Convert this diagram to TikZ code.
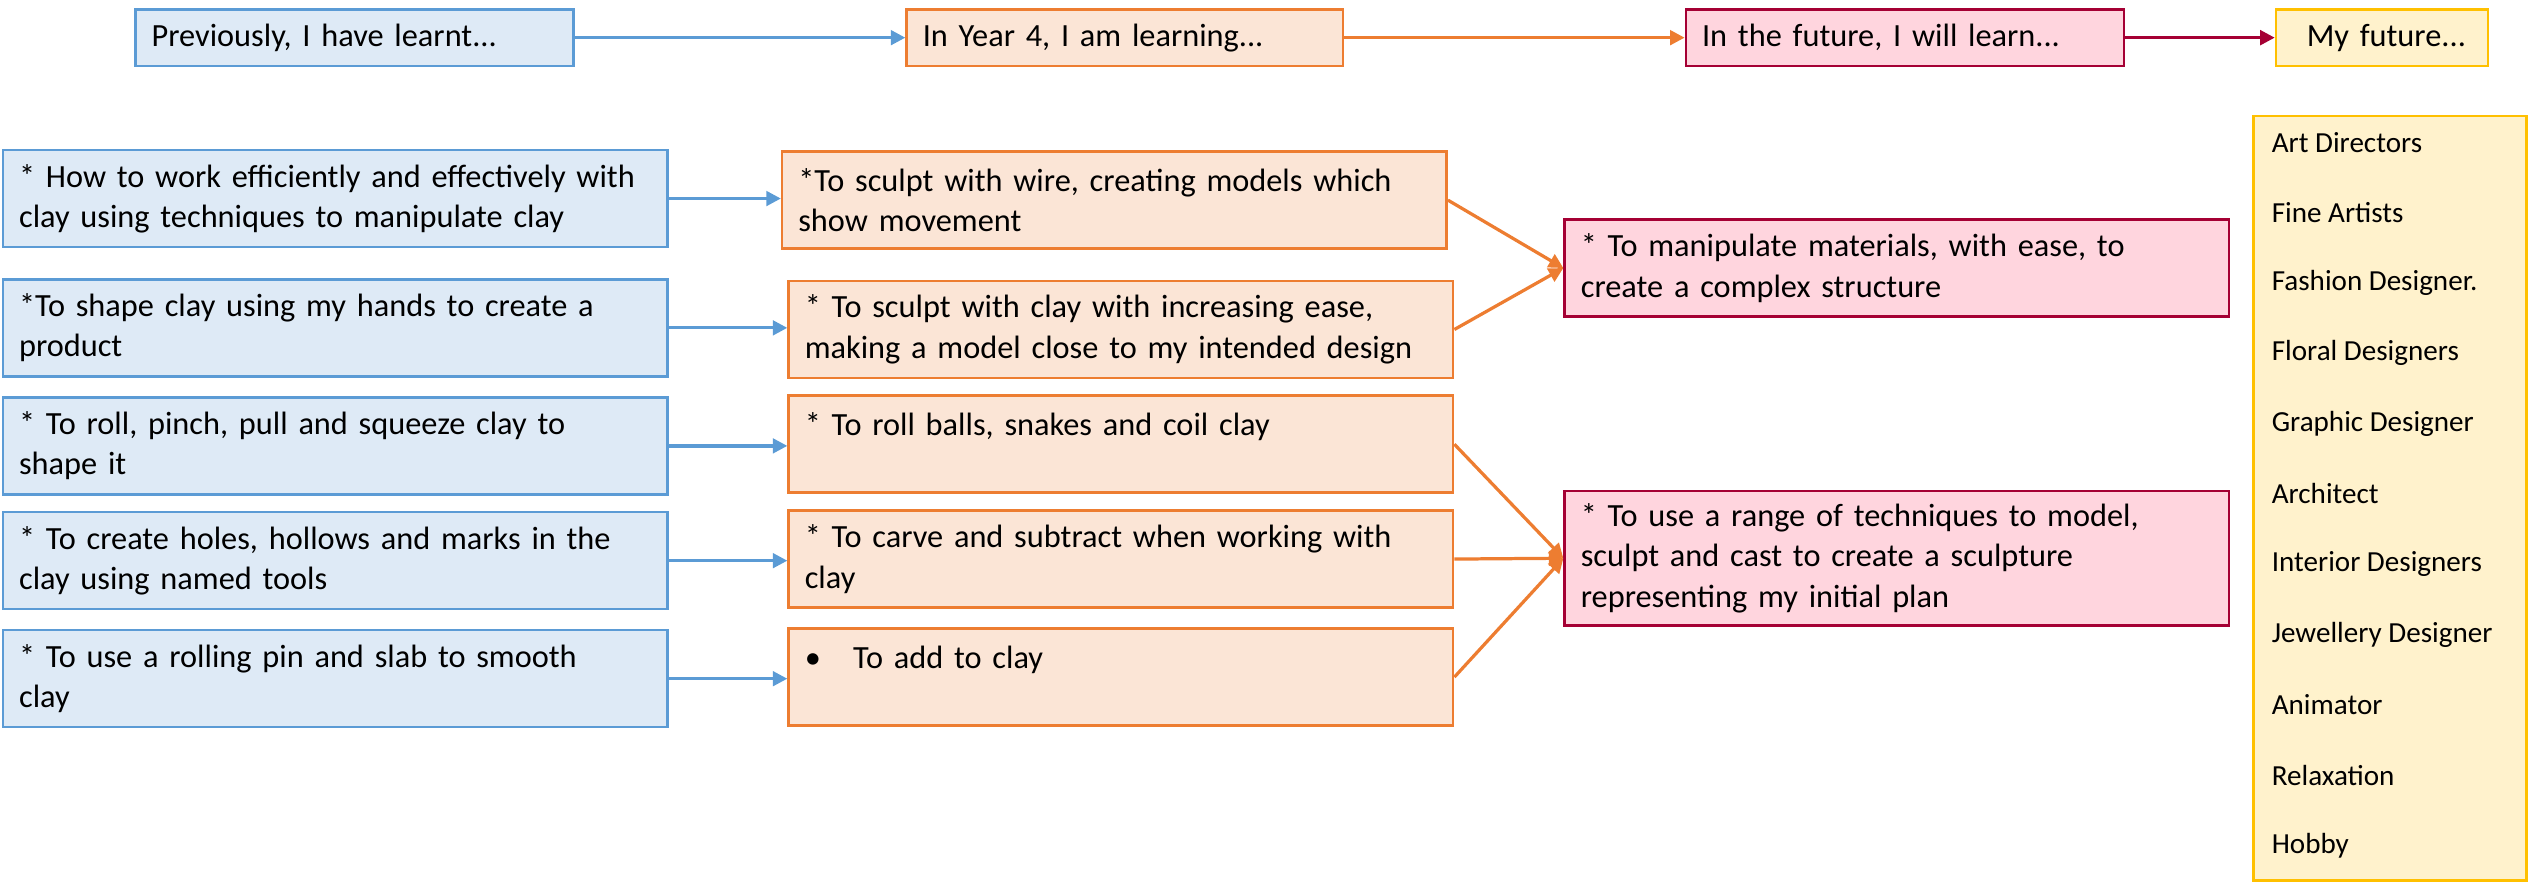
\documentclass[tikz,border=0pt]{standalone}
\usepackage{fontspec}
\setmainfont{Carlito}
\usetikzlibrary{arrows.meta}

\definecolor{pastline}{HTML}{5B9BD5}
\definecolor{pastfill}{HTML}{DEEAF6}
\definecolor{nowline}{HTML}{ED7D31}
\definecolor{nowfill}{HTML}{FBE5D6}
\definecolor{nextline}{HTML}{A50034}
\definecolor{nextfill}{HTML}{FFD5DE}
\definecolor{jobline}{HTML}{FFC000}
\definecolor{jobfill}{HTML}{FFF2CC}

\tikzset{
  card/.style={line width=1.6pt, anchor=north west, align=left, inner xsep=10pt, inner ysep=0pt},
  pastbox/.style={card, draw=pastline, fill=pastfill},
  nowbox/.style={card, draw=nowline, fill=nowfill},
  nextbox/.style={card, draw=nextline, fill=nextfill},
  jobbox/.style={card, draw=jobline, fill=jobfill},
  wide/.style={text width=391pt, minimum height=60pt},
  head/.style={minimum height=35pt},
  link/.style={line width=2pt, -{Triangle[length=9pt,width=9pt]}},
}

\begin{document}
\begin{tikzpicture}[x=1pt,y=-1pt,font=\fontsize{20}{25}\selectfont]
    \useasboundingbox (0,0) rectangle (1568,548);
    % Headings
    \node[pastbox,head,text width=251pt] (past) at (83,5) {Previously, I have learnt...};
    \node[nowbox,head,text width=250pt] (now) at (560,5) {In Year 4, I am learning...};
    \node[nextbox,head,text width=251pt] (next) at (1042,5) {In the future, I will learn...};
    \node[jobbox,head,text width=111pt] (myfut) at (1407,5) {\hspace{9pt}My future...};
    \draw[link,pastline] (past) -- (now);
    \draw[link,nowline] (now) -- (next);
    \draw[link,nextline] (next) -- (myfut);

    % Previously
    \node[pastbox,wide] (p1) at (1,92) {* How to work efficiently and effectively with\\clay using techniques to manipulate clay};
    \node[pastbox,wide] (p2) at (1,172) {*To shape clay using my hands to create a\\product};
    \node[pastbox,wide] (p3) at (1,245) {* To roll, pinch, pull and squeeze clay to\\shape it};
    \node[pastbox,wide] (p4) at (1,316) {* To create holes, hollows and marks in the\\clay using named tools};
    \node[pastbox,wide] (p5) at (1,389) {* To use a rolling pin and slab to smooth\\clay};

    % Year 4
    \node[nowbox,wide] (n1) at (483,93) {*To sculpt with wire, creating models which\\show movement};
    \node[nowbox,wide] (n2) at (487,173) {* To sculpt with clay with increasing ease,\\making a model close to my intended design};
    \node[nowbox,wide] (n3) at (487,244) {* To roll balls, snakes and coil clay\\\mbox{}};
    \node[nowbox,wide] (n4) at (487,315) {* To carve and subtract when working with\\clay};
    \node[nowbox,wide] (n5) at (487,388) {\textbullet\quad To add to clay\\\mbox{}};
    \foreach \i in {1,...,5}
        \draw[link,pastline] (p\i.east) -- (p\i.east -| n\i.west);

    % Future
    \node[nextbox,wide] (f1) at (967,135) {* To manipulate materials, with ease, to\\create a complex structure};
    \node[nextbox,wide,minimum height=83pt] (f2) at (967,303) {* To use a range of techniques to model,\\sculpt and cast to create a sculpture\\representing my initial plan};
    \draw[link,nowline] (n1.east) -- (f1.west);
    \draw[link,nowline] (n2.east) -- (f1.west);
    \draw[link,nowline] (n3.east) -- (f2.west);
    \draw[link,nowline] (n4.east) -- (f2.west);
    \draw[link,nowline] (n5.east) -- (f2.west);

    % My future
    \node[jobbox,text width=149pt,minimum height=473pt] (jobs) at (1393,71) {};
    \foreach \job [count=\i] in {Art Directors,Fine Artists,Fashion Designer.,Floral Designers,Graphic Designer,Architect,Interior Designers,Jewellery Designer,Animator,Relaxation,Hobby}
        \node[anchor=west,inner sep=0pt,font=\fontsize{18}{20}\selectfont] (job\i) at (1405,{88+43.5*(\i-1)}) {\job};
\end{tikzpicture}
\end{document}
